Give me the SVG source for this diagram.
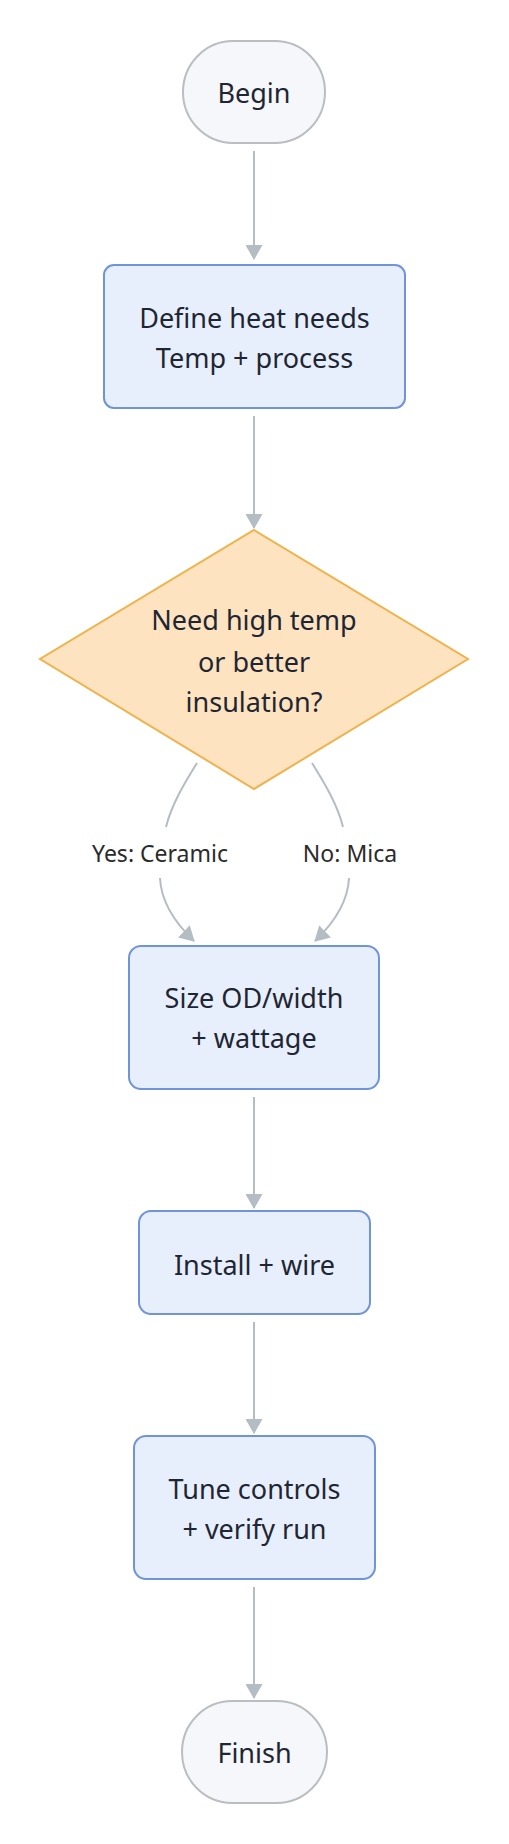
<svg xmlns="http://www.w3.org/2000/svg" width="509" height="1844" viewBox="0 0 509 1844">
<defs>
<style>
.term{fill:#f5f7fa;stroke:#babec2;stroke-width:2}
.proc{fill:#e8effc;stroke:#6f94da;stroke-width:2}
.dec{fill:#fde3c0;stroke:#f0b24c;stroke-width:2}
.t{font-family:"Noto Sans","Open Sans",sans-serif;font-size:27px;fill:#1f2633;text-anchor:middle}
.lbl{font-family:"Noto Sans","Open Sans",sans-serif;font-size:23px;fill:#2b2b2b;text-anchor:middle}
.e{fill:none;stroke:#b4bdc4;stroke-width:2}
.ea{fill:none;stroke:#b4bdc4;stroke-width:2;marker-end:url(#ah)}
</style>
<marker id="ah" viewBox="0 0 15 17" refX="14" refY="8.5" markerWidth="15" markerHeight="17" markerUnits="userSpaceOnUse" orient="auto">
<path d="M0,0 L15,8.5 L0,17 z" fill="#b4bdc4"/>
</marker>
</defs>
<rect width="509" height="1844" fill="#ffffff"/>
<g id="connectors">
<path class="ea" d="M254,151 L254,259"/>
<path class="ea" d="M254,416 L254,528"/>
<path class="e" d="M197,763 C186,781 172,803 166,827"/>
<path class="ea" d="M160,878 C161,900 172,920 194,941"/>
<path class="e" d="M312,763 C323,781 337,803 343,827"/>
<path class="ea" d="M349,878 C348,900 337,920 315,941"/>
<path class="ea" d="M254,1097 L254,1208"/>
<path class="ea" d="M254,1322 L254,1433"/>
<path class="ea" d="M254,1587 L254,1698"/>
<text class="lbl" x="160" y="862">Yes: Ceramic</text>
<text class="lbl" x="350" y="862">No: Mica</text>
</g>
<g id="begin">
<rect class="term" x="183" y="41" width="142" height="102" rx="50" ry="51"/>
<text class="t" x="254" y="103">Begin</text>
</g>
<g id="define">
<rect class="proc" x="104" y="265" width="301" height="143" rx="10"/>
<text class="t" x="254.5" y="328">Define heat needs</text>
<text class="t" x="254.5" y="368">Temp + process</text>
</g>
<g id="decision">
<polygon class="dec" points="254,530 468,659 254,789 40,659"/>
<text class="t" x="254" y="630">Need high temp</text>
<text class="t" x="254" y="672">or better</text>
<text class="t" x="254" y="712">insulation?</text>
</g>
<g id="size">
<rect class="proc" x="129" y="946" width="250" height="143" rx="12"/>
<text class="t" x="254" y="1008">Size OD/width</text>
<text class="t" x="254" y="1048">+ wattage</text>
</g>
<g id="install">
<rect class="proc" x="139" y="1211" width="231" height="103" rx="12"/>
<text class="t" x="254.5" y="1275">Install + wire</text>
</g>
<g id="tune">
<rect class="proc" x="134" y="1436" width="241" height="143" rx="12"/>
<text class="t" x="254.5" y="1499">Tune controls</text>
<text class="t" x="254.5" y="1539">+ verify run</text>
</g>
<g id="finish">
<rect class="term" x="182" y="1701" width="145" height="102" rx="50" ry="51"/>
<text class="t" x="254.5" y="1763">Finish</text>
</g>
</svg>
